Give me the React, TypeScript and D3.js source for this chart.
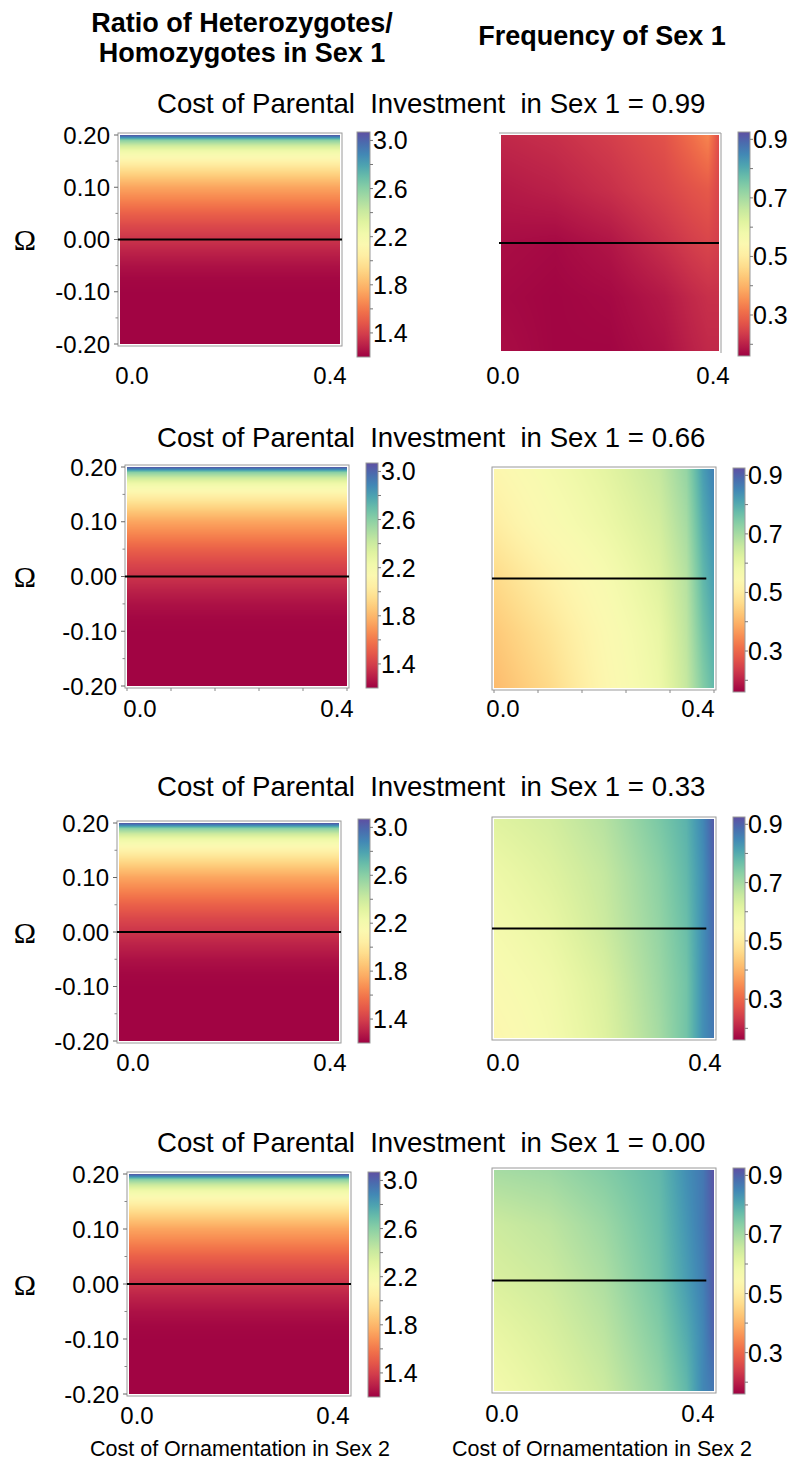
import React, { useMemo } from 'react';
import * as d3 from 'd3';

// ---------- data ----------
const COLUMN_TITLE_LEFT = ['Ratio of Heterozygotes/', 'Homozygotes in Sex 1'];
const COLUMN_TITLE_RIGHT = 'Frequency of Sex 1';
const ROW_TITLE = 'Cost of Parental  Investment  in Sex 1 = ';
const PIV_LABELS = ['0.99', '0.66', '0.33', '0.00'];
const X_AXIS_LABEL = 'Cost of Ornamentation in Sex 2';
const OMEGA_LABEL = 'Ω';

const OMEGA_TICKS = [0.2, 0.1, 0, -0.1, -0.2];
const OMEGA_TICK_LABELS = ['0.20', '0.10', '0.00', '-0.10', '-0.20'];
const OMEGA_MINOR = [0.15, 0.05, -0.05, -0.15];
const X_TICK_LABELS = ['0.0', '0.4'];
const X_MINOR = [0, 0.08, 0.16, 0.24, 0.32, 0.4];

const RATIO_TICKS = [3.0, 2.6, 2.2, 1.8, 1.4];
const RATIO_MINOR = [2.8, 2.4, 2.0, 1.6];
const RATIO_DOMAIN = [1.2, 3.07];
const FREQ_TICKS = [0.9, 0.7, 0.5, 0.3];
const FREQ_MINOR = [0.8, 0.6, 0.4, 0.2];
const FREQ_DOMAIN = [0.16, 0.925];

// ratio of heterozygotes/homozygotes vs Omega (same in every row)
const ratioOmega = [-0.2, -0.1, -0.075, -0.05, -0.025, 0, 0.025, 0.05, 0.075, 0.1, 0.115, 0.133, 0.15, 0.16, 0.17, 0.18, 0.19, 0.195, 0.2];
const ratioValues = [1.21, 1.21, 1.22, 1.25, 1.3, 1.36, 1.43, 1.52, 1.63, 1.74, 1.83, 1.95, 2.07, 2.16, 2.25, 2.4, 2.6, 2.85, 3.05];

// frequency of sex 1: columns = cost of ornamentation, rows = Omega (top to bottom)
const freqX = [0, 0.1, 0.2, 0.3, 0.35, 0.38, 0.4];
const freqOmega = [0.2, 0.1, 0, -0.1, -0.2];
const freqPiv099 = [
  [0.21, 0.22, 0.24, 0.27, 0.31, 0.34, 0.26],
  [0.19, 0.2, 0.22, 0.25, 0.27, 0.28, 0.25],
  [0.175, 0.17, 0.185, 0.22, 0.24, 0.25, 0.24],
  [0.17, 0.165, 0.17, 0.19, 0.21, 0.22, 0.22],
  [0.175, 0.165, 0.165, 0.18, 0.2, 0.21, 0.21],
];
const freqPiv066 = [
  [0.53, 0.57, 0.61, 0.66, 0.72, 0.82, 0.86],
  [0.5, 0.55, 0.59, 0.64, 0.7, 0.8, 0.84],
  [0.46, 0.51, 0.56, 0.62, 0.68, 0.78, 0.82],
  [0.43, 0.48, 0.54, 0.6, 0.67, 0.76, 0.8],
  [0.41, 0.46, 0.53, 0.59, 0.66, 0.74, 0.78],
];
const freqPiv033 = [
  [0.62, 0.64, 0.68, 0.75, 0.79, 0.85, 0.91],
  [0.59, 0.62, 0.66, 0.73, 0.78, 0.84, 0.9],
  [0.57, 0.6, 0.65, 0.72, 0.77, 0.84, 0.89],
  [0.55, 0.58, 0.63, 0.71, 0.76, 0.84, 0.88],
  [0.53, 0.57, 0.62, 0.7, 0.76, 0.84, 0.87],
];
const freqPiv000 = [
  [0.7, 0.71, 0.74, 0.78, 0.84, 0.87, 0.92],
  [0.65, 0.67, 0.71, 0.77, 0.83, 0.87, 0.91],
  [0.63, 0.65, 0.69, 0.76, 0.82, 0.86, 0.91],
  [0.6, 0.63, 0.67, 0.74, 0.8, 0.85, 0.9],
  [0.575, 0.61, 0.65, 0.72, 0.78, 0.85, 0.87],
];
const FREQ_GRIDS = [freqPiv099, freqPiv066, freqPiv033, freqPiv000];

// ---------- layout ----------
type Box = { x0: number; x1: number; y0: number; y1: number };
interface RowLayout {
  titleY: number; L: Box; LC: Box; R: Box; RC: Box;
  lx: [number, number]; rx: [number, number]; lxY: number; rxY: number;
  rLineEnd: number; xTicks: boolean; rFrameFull: boolean;
}
const LAYOUT: RowLayout[] = [
  { titleY: 113, L: { x0: 118, x1: 342, y0: 133, y1: 346 }, LC: { x0: 357, x1: 370, y0: 132, y1: 357 },
    R: { x0: 499, x1: 721, y0: 133, y1: 353 }, RC: { x0: 738, x1: 750, y0: 132, y1: 356 },
    lx: [132, 330], rx: [503, 713], lxY: 375, rxY: 375, rLineEnd: 0.4, xTicks: false, rFrameFull: false },
  { titleY: 447, L: { x0: 125, x1: 349, y0: 465, y1: 688 }, LC: { x0: 366, x1: 378, y0: 463, y1: 688 },
    R: { x0: 492, x1: 716, y0: 467, y1: 690 }, RC: { x0: 733, x1: 745, y0: 468, y1: 692 },
    lx: [140, 337], rx: [503, 698], lxY: 708, rxY: 708, rLineEnd: 0.386, xTicks: true, rFrameFull: true },
  { titleY: 796, L: { x0: 117, x1: 341, y0: 821, y1: 1043 }, LC: { x0: 358, x1: 370, y0: 819, y1: 1043 },
    R: { x0: 492, x1: 716, y0: 817, y1: 1040 }, RC: { x0: 733, x1: 745, y0: 817, y1: 1040 },
    lx: [133, 330], rx: [503, 705], lxY: 1062, rxY: 1062, rLineEnd: 0.386, xTicks: false, rFrameFull: true },
  { titleY: 1152, L: { x0: 127, x1: 351, y0: 1172, y1: 1396 }, LC: { x0: 368, x1: 380, y0: 1172, y1: 1397 },
    R: { x0: 492, x1: 716, y0: 1168, y1: 1393 }, RC: { x0: 733, x1: 745, y0: 1168, y1: 1394 },
    lx: [137, 333], rx: [502, 698], lxY: 1415, rxY: 1413, rLineEnd: 0.386, xTicks: false, rFrameFull: true },
];

const SANS = '"Liberation Sans", Arial, Helvetica, sans-serif';
const SERIF = '"Liberation Serif", "Times New Roman", serif';
const INSET = 2;
const FRAME = '#9a9a9a';

// ---------- helpers ----------
function interp1(xs: number[], vs: number[], x: number) {
  if (x <= xs[0]) return vs[0];
  if (x >= xs[xs.length - 1]) return vs[vs.length - 1];
  const i = Math.max(0, Math.min(xs.length - 2, d3.bisectRight(xs, x) - 1));
  const t = (x - xs[i]) / (xs[i + 1] - xs[i]);
  return vs[i] + t * (vs[i + 1] - vs[i]);
}

function interp2(xs: number[], ysAsc: number[], gridAsc: number[][], x: number, y: number) {
  const colVals = gridAsc.map((row) => interp1(xs, row, x));
  return interp1(ysAsc, colVals, y);
}

const LUT_N = 1024;
const LUT = d3.range(LUT_N).map((i) => d3.rgb(d3.interpolateSpectral(i / (LUT_N - 1))));

function heatURL(w: number, h: number, domain: number[], f: (px: number, py: number) => number) {
  const c = document.createElement('canvas');
  c.width = w; c.height = h;
  const ctx = c.getContext('2d')!;
  const img = ctx.createImageData(w, h);
  const t = d3.scaleLinear().domain(domain).range([0, LUT_N - 1]).clamp(true);
  for (let j = 0; j < h; j++) {
    for (let i = 0; i < w; i++) {
      const col = LUT[Math.round(t(f(i + 0.5, j + 0.5)))];
      const k = (j * w + i) * 4;
      img.data[k] = col.r; img.data[k + 1] = col.g; img.data[k + 2] = col.b; img.data[k + 3] = 255;
    }
  }
  ctx.putImageData(img, 0, 0);
  return c.toDataURL();
}

function innerScales(b: Box) {
  const x = d3.scaleLinear().domain([0, 0.4]).range([b.x0 + INSET, b.x1 - INSET]);
  const y = d3.scaleLinear().domain([-0.2, 0.2]).range([b.y1 - INSET, b.y0 + INSET]);
  return { x, y };
}

function ColorBar({ b, domain, ticks, minor, id, fontSize }: { b: Box; domain: number[]; ticks: number[]; minor: number[]; id: string; fontSize: number }) {
  const s = d3.scaleLinear().domain(domain).range([b.y1, b.y0]);
  const stops = d3.range(0, 1.0001, 0.05);
  return (
    <g>
      <defs>
        <linearGradient id={id} x1="0" y1="1" x2="0" y2="0">
          {stops.map((t) => (
            <stop key={t} offset={t} stopColor={d3.interpolateSpectral(t)} />
          ))}
        </linearGradient>
      </defs>
      <rect x={b.x0} y={b.y0} width={b.x1 - b.x0} height={b.y1 - b.y0} fill={`url(#${id})`} stroke={FRAME} strokeWidth={1} />
      {ticks.map((v) => (
        <g key={'t' + v}>
          <line x1={b.x1} x2={b.x1 + 3} y1={s(v)} y2={s(v)} stroke="#777" />
          <text x={b.x1 + 3} y={s(v)} dy="0.36em" fontSize={fontSize} fontFamily={SANS}>{v.toFixed(1)}</text>
        </g>
      ))}
      {minor.map((v) => (
        <line key={'m' + v} x1={b.x1} x2={b.x1 + 3} y1={s(v)} y2={s(v)} stroke="#777" />
      ))}
    </g>
  );
}

function Row({ idx, lay }: { idx: number; lay: RowLayout }) {
  const L = innerScales(lay.L);
  const R = innerScales(lay.R);
  const lw = Math.round(lay.L.x1 - lay.L.x0 - 2 * INSET);
  const lh = Math.round(lay.L.y1 - lay.L.y0 - 2 * INSET);
  const rw = Math.round(lay.R.x1 - lay.R.x0 - 2 * INSET);
  const rh = Math.round(lay.R.y1 - lay.R.y0 - 2 * INSET);

  const grid = FREQ_GRIDS[idx];
  const urls = useMemo(() => {
    const lys = d3.scaleLinear().domain([-0.2, 0.2]).range([lh, 0]);
    const left = heatURL(lw, lh, RATIO_DOMAIN, (_px, py) => interp1(ratioOmega, ratioValues, lys.invert(py)));
    const rxs = d3.scaleLinear().domain([0, 0.4]).range([0, rw]);
    const rys = d3.scaleLinear().domain([-0.2, 0.2]).range([rh, 0]);
    const ysAsc = freqOmega.slice().reverse();
    const gAsc = grid.slice().reverse();
    const right = heatURL(rw, rh, FREQ_DOMAIN, (px, py) => interp2(freqX, ysAsc, gAsc, rxs.invert(px), rys.invert(py)));
    return { left, right };
  }, [idx]);

  const tickFont = 24;
  return (
    <g>
      <text x={157} y={lay.titleY} fontSize={27.6} fontFamily={SANS} xmlSpace="preserve" style={{ whiteSpace: 'pre' }}>
        {ROW_TITLE + PIV_LABELS[idx]}
      </text>

      {/* left panel */}
      <image href={urls.left} x={lay.L.x0 + INSET} y={lay.L.y0 + INSET} width={lw} height={lh} preserveAspectRatio="none" />
      <rect x={lay.L.x0} y={lay.L.y0} width={lay.L.x1 - lay.L.x0} height={lay.L.y1 - lay.L.y0} fill="none" stroke={FRAME} strokeWidth={1} />
      <line x1={lay.L.x0} x2={lay.L.x1} y1={L.y(0)} y2={L.y(0)} stroke="#000" strokeWidth={2} />
      {OMEGA_TICKS.map((v, i) => (
        <g key={'ot' + i}>
          <line x1={lay.L.x0 - 4} x2={lay.L.x0} y1={L.y(v)} y2={L.y(v)} stroke="#666" />
          <text x={lay.L.x0 - 8} y={L.y(v)} dy="0.36em" textAnchor="end" fontSize={tickFont} fontFamily={SANS}>{OMEGA_TICK_LABELS[i]}</text>
        </g>
      ))}
      {OMEGA_MINOR.map((v) => (
        <line key={'om' + v} x1={lay.L.x0 - 2.5} x2={lay.L.x0} y1={L.y(v)} y2={L.y(v)} stroke="#888" />
      ))}
      <text x={25} y={L.y(0)} dy="0.36em" textAnchor="middle" fontSize={30} fontFamily={SERIF}>{OMEGA_LABEL}</text>
      {lay.xTicks && X_MINOR.map((v) => (
        <line key={'lx' + v} x1={L.x(v)} x2={L.x(v)} y1={lay.L.y1} y2={lay.L.y1 + 3} stroke="#888" />
      ))}
      <text x={lay.lx[0]} y={lay.lxY} dy="0.36em" textAnchor="middle" fontSize={tickFont} fontFamily={SANS}>{X_TICK_LABELS[0]}</text>
      <text x={lay.lx[1]} y={lay.lxY} dy="0.36em" textAnchor="middle" fontSize={tickFont} fontFamily={SANS}>{X_TICK_LABELS[1]}</text>
      <ColorBar b={lay.LC} domain={RATIO_DOMAIN} ticks={RATIO_TICKS} minor={RATIO_MINOR} id={'cbl' + idx} fontSize={25} />

      {/* right panel */}
      <image href={urls.right} x={lay.R.x0 + INSET} y={lay.R.y0 + INSET} width={rw} height={rh} preserveAspectRatio="none" />
      {lay.rFrameFull ? (
        <rect x={lay.R.x0} y={lay.R.y0} width={lay.R.x1 - lay.R.x0} height={lay.R.y1 - lay.R.y0} fill="none" stroke={FRAME} strokeWidth={1} />
      ) : (
        <path d={`M${lay.R.x0},${lay.R.y0}H${lay.R.x1}V${lay.R.y1}`} fill="none" stroke={FRAME} strokeWidth={1} />
      )}
      <line x1={lay.R.x0} x2={R.x(lay.rLineEnd)} y1={R.y(0)} y2={R.y(0)} stroke="#000" strokeWidth={2} />
      {lay.xTicks && X_MINOR.map((v) => (
        <line key={'rx' + v} x1={R.x(v)} x2={R.x(v)} y1={lay.R.y1} y2={lay.R.y1 + 3} stroke="#888" />
      ))}
      <text x={lay.rx[0]} y={lay.rxY} dy="0.36em" textAnchor="middle" fontSize={tickFont} fontFamily={SANS}>{X_TICK_LABELS[0]}</text>
      <text x={lay.rx[1]} y={lay.rxY} dy="0.36em" textAnchor="middle" fontSize={tickFont} fontFamily={SANS}>{X_TICK_LABELS[1]}</text>
      <ColorBar b={lay.RC} domain={FREQ_DOMAIN} ticks={FREQ_TICKS} minor={FREQ_MINOR} id={'cbr' + idx} fontSize={25} />
    </g>
  );
}

export default function App() {
  return (
    <svg width={796} height={1463} viewBox="0 0 796 1463" style={{ position: 'absolute', left: 0, top: 0, background: '#fff' }}>
      <rect x={0} y={0} width={796} height={1463} fill="#fff" />
      <text x={242} y={32} textAnchor="middle" fontSize={27} fontWeight="bold" fontFamily={SANS}>{COLUMN_TITLE_LEFT[0]}</text>
      <text x={242} y={62} textAnchor="middle" fontSize={27} fontWeight="bold" fontFamily={SANS}>{COLUMN_TITLE_LEFT[1]}</text>
      <text x={602} y={45} textAnchor="middle" fontSize={27} fontWeight="bold" fontFamily={SANS}>{COLUMN_TITLE_RIGHT}</text>
      {LAYOUT.map((lay, i) => (
        <Row key={i} idx={i} lay={lay} />
      ))}
      <text x={90} y={1456} fontSize={21.5} fontFamily={SANS}>{X_AXIS_LABEL}</text>
      <text x={452} y={1456} fontSize={21.5} fontFamily={SANS}>{X_AXIS_LABEL}</text>
    </svg>
  );
}
